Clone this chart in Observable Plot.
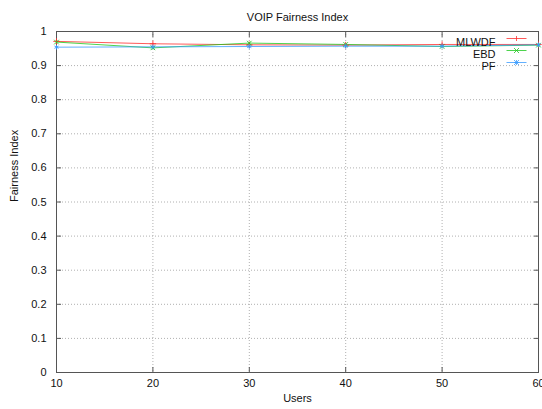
<!DOCTYPE html>
<html>
<head>
<meta charset="utf-8">
<script src="https://cdn.jsdelivr.net/npm/d3@7"></script>
<script src="https://cdn.jsdelivr.net/npm/@observablehq/plot@0.6"></script>
<style>
  html, body { margin: 0; padding: 0; background: #fff; }
  svg { display: block; overflow: visible; }
</style>
</head>
<body>
<div id="chart"></div>
<script>
const users = [10, 20, 30, 40, 50, 60];
const mlwdf = [0.971, 0.964, 0.961, 0.960, 0.962, 0.962];
const ebd   = [0.969, 0.952, 0.966, 0.962, 0.956, 0.960];
const pf    = [0.954, 0.955, 0.956, 0.957, 0.957, 0.961];
const seriesNames = ["MLWDF", "EBD", "PF"];
const seriesColors = ["#ff3030", "#20c820", "#3a9cff"];
const seriesSymbols = ["plus", "times", "asterisk"];
const xTicks = [10, 20, 30, 40, 50, 60];
const yTicks = [0, 0.1, 0.2, 0.3, 0.4, 0.5, 0.6, 0.7, 0.8, 0.9, 1];

const seriesValues = [mlwdf, ebd, pf];
const rows = [];
seriesNames.forEach((name, i) => {
  users.forEach((u, j) => rows.push({series: name, users: u, value: seriesValues[i][j]}));
});

const colorOf = Object.fromEntries(seriesNames.map((n, i) => [n, seriesColors[i]]));
const symbolOf = Object.fromEntries(seriesNames.map((n, i) => [n, seriesSymbols[i]]));

function sampleSymbol(kind) {
  return {
    draw(ctx, size) {
      const r = 2.5;
      ctx.moveTo(-10, 0); ctx.lineTo(10, 0);
      if (kind === "plus") {
        ctx.moveTo(0, -r); ctx.lineTo(0, r);
      } else if (kind === "times") {
        ctx.moveTo(-r, -r); ctx.lineTo(r, r);
        ctx.moveTo(-r, r); ctx.lineTo(r, -r);
      } else {
        ctx.moveTo(0, -r); ctx.lineTo(0, r);
        ctx.moveTo(-r, -r); ctx.lineTo(r, r);
        ctx.moveTo(-r, r); ctx.lineTo(r, -r);
        ctx.moveTo(-r, 0); ctx.lineTo(r, 0);
      }
    }
  };
}

const font = "'Liberation Sans', Arial, sans-serif";
const legendMarks = seriesNames.flatMap((name, i) => [
  Plot.text([name], {
    text: d => d, frameAnchor: "top-right", dx: -43, dy: 7 + 12 * i,
    textAnchor: "end", fontSize: 11, fill: "#111"
  }),
  Plot.dot([name], {
    frameAnchor: "top-right", dx: -22, dy: 7 + 12 * i,
    symbol: sampleSymbol(seriesSymbols[i]), stroke: seriesColors[i],
    fill: "none", strokeWidth: 0.8, r: 4
  })
]);

const chart = Plot.plot({
  width: 542,
  height: 409,
  marginLeft: 56,
  marginRight: 4,
  marginTop: 31,
  marginBottom: 37,
  style: {fontFamily: font, fontSize: "11px", color: "#111", background: "#fff", overflow: "visible"},
  x: {domain: [10, 60], label: null},
  y: {domain: [0, 1], label: null},
  marks: [
    Plot.gridX(xTicks, {stroke: "#b0b0b0", strokeOpacity: 1, strokeDasharray: "1,2"}),
    Plot.gridY(yTicks, {stroke: "#b0b0b0", strokeOpacity: 1, strokeDasharray: "1,2"}),
    Plot.axisX(xTicks, {anchor: "bottom", tickSize: 0, tickPadding: 7, tickFormat: d => String(d), fontSize: 11}),
    Plot.axisY(yTicks, {anchor: "left", tickSize: 0, tickPadding: 10, tickFormat: d => String(d), fontSize: 11}),
    Plot.axisX(xTicks, {anchor: "bottom", tickSize: 5, dy: -5, text: null, stroke: "#555"}),
    Plot.axisX(xTicks, {anchor: "top", tickSize: 5, dy: 5, text: null, stroke: "#555"}),
    Plot.axisY(yTicks, {anchor: "left", tickSize: 5, dx: 5, text: null, stroke: "#555"}),
    Plot.axisY(yTicks, {anchor: "right", tickSize: 5, dx: -5, text: null, stroke: "#555"}),
    Plot.frame({stroke: "#555"}),
    Plot.line(rows, {x: "users", y: "value", z: "series", stroke: d => colorOf[d.series], strokeWidth: 0.8}),
    Plot.dot(rows, {x: "users", y: "value", symbol: d => symbolOf[d.series], stroke: d => colorOf[d.series], r: 2.2, strokeWidth: 0.9}),
    ...legendMarks,
    Plot.text(["VOIP Fairness Index"], {text: d => d, frameAnchor: "top", dy: -18, fontSize: 11, fill: "#111"}),
    Plot.text(["Users"], {text: d => d, frameAnchor: "bottom", dy: 29, fontSize: 11, fill: "#111"}),
    Plot.text(["Fairness Index"], {text: d => d, frameAnchor: "left", dx: -42, rotate: -90, fontSize: 11, fill: "#111"})
  ]
});
document.getElementById("chart").appendChild(chart);
</script>
</body>
</html>
